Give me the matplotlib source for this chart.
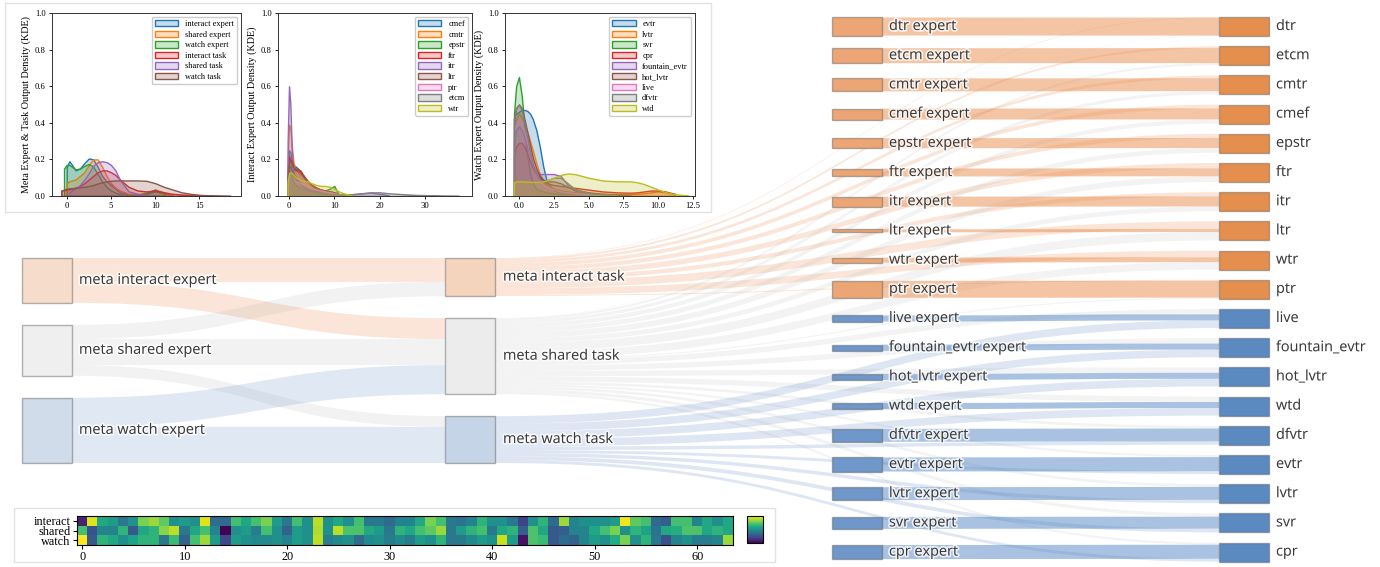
import numpy as np
import matplotlib
matplotlib.use("Agg")
import matplotlib.pyplot as plt
import matplotlib.patheffects as pe
from matplotlib.path import Path
from matplotlib.patches import PathPatch, Rectangle
from matplotlib.colors import to_rgba

plt.rcParams['font.family'] = ['Liberation Serif', 'DejaVu Serif']
N = None

# ---------------- KDE panels (density) ----------------
x_meta = [-0.6, -0.3, 0.0, 0.3, 0.6, 1.0, 1.5, 2.0, 2.5, 3.0, 3.5, 4.0, 4.5, 5.0, 5.5, 6.0,
          7.0, 8.0, 9.0, 10.0, 11.0, 12.0, 13.0, 14.0, 15.0, 16.5, 18.5]
meta_names = ['interact expert', 'shared expert', 'watch expert', 'interact task', 'shared task', 'watch task']
meta_dens = [
    [N, N, 0.16, 0.19, 0.17, 0.14, 0.15, 0.18, 0.205, 0.20, 0.16, 0.11, 0.08, 0.06, 0.04, 0.02, 0.008, 0.006, 0.012, 0.025, 0.015, 0.002, N, N, N, N, N],
    [N, N, 0.07, 0.08, 0.085, 0.09, 0.11, 0.13, 0.17, 0.20, 0.20, 0.16, 0.11, 0.07, 0.045, 0.03, 0.012, 0.008, 0.02, 0.035, 0.02, 0.003, N, N, N, N, N],
    [N, 0.15, 0.17, 0.17, 0.16, 0.145, 0.15, 0.165, 0.175, 0.16, 0.12, 0.08, 0.05, 0.03, 0.018, 0.01, 0.004, 0.004, 0.015, 0.035, 0.012, N, N, N, N, N, N],
    [0.03, 0.032, 0.035, 0.038, 0.04, 0.045, 0.055, 0.07, 0.09, 0.11, 0.13, 0.14, 0.14, 0.13, 0.115, 0.09, 0.05, 0.03, 0.025, 0.03, 0.02, 0.012, 0.008, 0.006, 0.005, 0.003, N],
    [N, N, N, 0.02, 0.03, 0.04, 0.06, 0.09, 0.125, 0.165, 0.185, 0.19, 0.185, 0.17, 0.14, 0.09, 0.025, 0.012, 0.006, 0.002, N, N, N, N, N, N, N],
    [0.03, 0.035, 0.04, 0.042, 0.043, 0.045, 0.048, 0.05, 0.055, 0.06, 0.068, 0.075, 0.08, 0.083, 0.085, 0.085, 0.085, 0.085, 0.083, 0.07, 0.05, 0.035, 0.02, 0.012, 0.006, 0.003, 0.001],
]

x_inter = [-0.3, 0.0, 0.3, 0.6, 1.0, 1.5, 2.0, 2.5, 3.0, 4.0, 5.0, 6.0, 7.0, 8.0, 9.0, 10.0,
           11.0, 12.0, 14.0, 16.0, 18.0, 20.0, 22.0, 25.0, 28.0, 31.0, 34.0, 37.5]
inter_names = ['cmef', 'cmtr', 'epstr', 'ftr', 'itr', 'ltr', 'ptr', 'etcm', 'wtr']
inter_dens = [
    [0.15, 0.25, 0.24, 0.20, 0.17, 0.16, 0.15, 0.13, 0.11, 0.08, 0.06, 0.045, 0.035, 0.03, 0.025, 0.018, 0.008, 0.002] + [N] * 10,
    [0.20, 0.39, 0.37, 0.28, 0.18, 0.14, 0.13, 0.12, 0.11, 0.08, 0.06, 0.045, 0.035, 0.03, 0.025, 0.02, 0.01, 0.005, 0.001] + [N] * 9,
    [0.10, 0.17, 0.16, 0.14, 0.12, 0.10, 0.08, 0.07, 0.06, 0.045, 0.035, 0.03, 0.028, 0.03, 0.04, 0.055, 0.005] + [N] * 11,
    [0.12, 0.22, 0.20, 0.17, 0.15, 0.14, 0.145, 0.14, 0.12, 0.085, 0.06, 0.045, 0.035, 0.03, 0.025, 0.02, 0.01, 0.005] + [N] * 10,
    [0.30, 0.60, 0.50, 0.25, 0.12, 0.09, 0.08, 0.07, 0.05, 0.04, 0.03, 0.025, 0.02, 0.015, 0.012, 0.01, 0.008, 0.008, 0.01, 0.014, 0.018, 0.012, 0.004] + [N] * 5,
    [0.08, 0.18, 0.20, 0.19, 0.16, 0.15, 0.14, 0.13, 0.115, 0.085, 0.06, 0.045, 0.035, 0.03, 0.025, 0.02, 0.01, 0.004] + [N] * 10,
    [0.06, 0.10, 0.11, 0.10, 0.09, 0.08, 0.075, 0.07, 0.065, 0.05, 0.04, 0.035, 0.03, 0.025, 0.02, 0.015, 0.01, 0.005, 0.002] + [N] * 9,
    [0.07, 0.13, 0.12, 0.10, 0.08, 0.06, 0.05, 0.045, 0.04, 0.03, 0.025, 0.02, 0.016, 0.012, 0.01, 0.009, 0.008, 0.008, 0.01, 0.015, 0.02, 0.02, 0.015, 0.01, 0.006, 0.004, 0.002, 0.001],
    [0.08, 0.12, 0.13, 0.125, 0.115, 0.10, 0.095, 0.09, 0.085, 0.08, 0.07, 0.06, 0.055, 0.055, 0.05, 0.04, 0.025, 0.015, 0.002] + [N] * 9,
]

x_watch = [-0.35, -0.2, 0.0, 0.2, 0.4, 0.6, 0.8, 1.0, 1.25, 1.5, 1.75, 2.0, 2.5, 3.0, 3.5, 4.0,
           5.0, 6.0, 7.0, 8.0, 8.5, 9.0, 9.5, 10.0, 10.5, 11.2, 12.2]
watch_names = ['evtr', 'lvtr', 'svr', 'cpr', 'fountain_evtr', 'hot_lvtr', 'live', 'dfvtr', 'wtd']
watch_dens = [
    [0.43, 0.45, 0.46, 0.47, 0.47, 0.465, 0.45, 0.42, 0.36, 0.27, 0.16, 0.08, 0.03, 0.02, 0.015, 0.01, 0.008, 0.005, 0.003, 0.002] + [N] * 7,
    [0.38, 0.42, 0.45, 0.43, 0.40, 0.35, 0.30, 0.25, 0.18, 0.12, 0.08, 0.06, 0.04, 0.03, 0.025, 0.02, 0.015, 0.012, 0.01, 0.01, 0.012, 0.015, 0.02, 0.025, 0.02, 0.01, N],
    [0.45, 0.60, 0.65, 0.55, 0.38, 0.22, 0.12, 0.07, 0.04, 0.03, 0.025, 0.02, 0.015, 0.01, 0.008, 0.005, 0.002] + [N] * 10,
    [0.22, 0.27, 0.29, 0.29, 0.27, 0.23, 0.19, 0.15, 0.12, 0.10, 0.08, 0.07, 0.06, 0.055, 0.05, 0.045, 0.035, 0.025, 0.02, 0.018, 0.02, 0.025, 0.03, 0.03, 0.025, 0.012, N],
    [0.30, 0.36, 0.38, 0.36, 0.32, 0.27, 0.22, 0.17, 0.13, 0.12, 0.12, 0.12, 0.12, 0.11, 0.06, 0.03, 0.01, 0.005] + [N] * 9,
    [0.42, 0.48, 0.50, 0.48, 0.42, 0.35, 0.28, 0.21, 0.15, 0.11, 0.09, 0.08, 0.08, 0.07, 0.05, 0.035, 0.02, 0.012, 0.008, 0.005] + [N] * 7,
    [0.35, 0.40, 0.42, 0.40, 0.35, 0.29, 0.23, 0.17, 0.12, 0.08, 0.06, 0.05, 0.035, 0.025, 0.02, 0.015, 0.01, 0.005] + [N] * 9,
    [0.42, 0.48, 0.50, 0.47, 0.40, 0.32, 0.24, 0.17, 0.12, 0.09, 0.08, 0.085, 0.10, 0.10, 0.07, 0.04, 0.015, 0.008, 0.005] + [N] * 8,
    [0.075, 0.08, 0.08, 0.08, 0.079, 0.078, 0.078, 0.077, 0.077, 0.077, 0.08, 0.085, 0.10, 0.115, 0.123, 0.12, 0.10, 0.085, 0.08, 0.08, 0.075, 0.065, 0.05, 0.035, 0.022, 0.01, 0.002],
]

# ---------------- heatmap of gate weights ----------------
heat_rows = ['interact', 'shared', 'watch']
heat_interact = [0.10, 0.95, 0.60, 0.55, 0.40, 0.50, 0.80, 0.85, 0.75, 0.50, 0.55, 0.50, 0.95, 0.35, 0.35, 0.70,
                 0.60, 0.70, 0.80, 0.55, 0.40, 0.70, 0.50, 0.90, 0.50, 0.60, 0.50, 0.70, 0.40, 0.40, 0.35, 0.45,
                 0.45, 0.60, 0.80, 0.70, 0.40, 0.38, 0.45, 0.65, 0.50, 0.50, 0.40, 0.20, 0.50, 0.65, 0.35, 0.85,
                 0.45, 0.50, 0.50, 0.50, 0.55, 0.98, 0.75, 0.70, 0.35, 0.30, 0.70, 0.70, 0.45, 0.60, 0.50, 0.60]
heat_shared = [0.70, 0.25, 0.45, 0.45, 0.65, 0.28, 0.60, 0.65, 0.82, 0.90, 0.40, 0.60, 0.70, 0.45, 0.00, 0.50,
               0.55, 0.42, 0.70, 0.50, 0.32, 0.55, 0.50, 0.88, 0.50, 0.90, 0.72, 0.72, 0.60, 0.55, 0.40, 0.65,
               0.60, 0.70, 0.75, 0.85, 0.40, 0.55, 0.65, 0.70, 0.40, 0.60, 0.65, 0.30, 0.72, 0.60, 0.28, 0.30,
               0.45, 0.45, 0.60, 0.70, 0.80, 0.50, 0.65, 0.58, 0.38, 0.60, 0.62, 0.72, 0.72, 0.60, 0.65, 0.60]
heat_watch = [1.00, 0.28, 0.65, 0.60, 0.50, 0.58, 0.65, 0.65, 0.40, 0.68, 0.32, 0.70, 0.85, 0.55, 0.22, 0.55,
              0.50, 0.48, 0.48, 0.50, 0.45, 0.55, 0.50, 0.90, 0.42, 0.48, 0.50, 0.35, 0.48, 0.50, 0.42, 0.48,
              0.42, 0.55, 0.50, 0.65, 0.40, 0.40, 0.48, 0.55, 0.50, 0.92, 0.55, 0.05, 0.72, 0.68, 0.28, 0.35,
              0.32, 0.45, 0.55, 0.50, 0.62, 0.80, 0.50, 0.65, 0.40, 0.25, 0.45, 0.50, 0.42, 0.42, 0.45, 0.85]

# ---------------- sankey flows ----------------
meta_experts = ['meta interact expert', 'meta shared expert', 'meta watch expert']
meta_tasks = ['meta interact task', 'meta shared task', 'meta watch task']
meta_flow = [[1.26, 1.10, 0.00],
             [0.75, 1.37, 0.56],
             [0.00, 1.53, 1.90]]
tasks = ['dtr', 'etcm', 'cmtr', 'cmef', 'epstr', 'ftr', 'itr', 'ltr', 'wtr', 'ptr',
         'live', 'fountain_evtr', 'hot_lvtr', 'wtd', 'dfvtr', 'evtr', 'lvtr', 'svr', 'cpr']
task_group = ['interact'] * 10 + ['watch'] * 9
w_expert = [0.95, 0.79, 0.68, 0.58, 0.53, 0.42, 0.53, 0.16, 0.26, 0.89,
            0.32, 0.32, 0.32, 0.32, 0.68, 0.74, 0.68, 0.63, 0.74]
w_interact = [0.03, 0.10, 0.15, 0.20, 0.22, 0.28, 0.22, 0.40, 0.35, 0.05,
              0, 0, 0, 0, 0, 0, 0, 0, 0]
w_shared = [0.02, 0.11, 0.17, 0.22, 0.25, 0.30, 0.25, 0.44, 0.39, 0.06,
            0.28, 0.28, 0.28, 0.28, 0.14, 0.11, 0.14, 0.17, 0.11]
w_watch = [0, 0, 0, 0, 0, 0, 0, 0, 0, 0,
           0.40, 0.40, 0.40, 0.40, 0.18, 0.15, 0.18, 0.20, 0.15]

W, H = 1380, 567
fig = plt.figure(figsize=(W / 100, H / 100), dpi=100)


def px(x0, y0, x1, y1):
    return [x0 / W, 1 - y1 / H, (x1 - x0) / W, (y1 - y0) / H]


# sankey canvas in pixel units
sk = fig.add_axes([0, 0, 1, 1])
sk.set_xlim(0, W)
sk.set_ylim(H, 0)
sk.axis('off')

SCALE = 19.0
COL_X = [22, 445, 832, 1219]
NW = 50
halo = [pe.withStroke(linewidth=2.5, foreground='white', alpha=0.75)]


def band(xa, ya0, ya1, xb, yb0, yb1, color, z=1):
    xm = (xa + xb) / 2
    verts = [(xa, ya0), (xm, ya0), (xm, yb0), (xb, yb0), (xb, yb1), (xm, yb1), (xm, ya1), (xa, ya1), (xa, ya0)]
    codes = [Path.MOVETO, Path.CURVE4, Path.CURVE4, Path.CURVE4, Path.LINETO,
             Path.CURVE4, Path.CURVE4, Path.CURVE4, Path.CLOSEPOLY]
    sk.add_patch(PathPatch(Path(verts, codes), facecolor=color, edgecolor='none', lw=0, zorder=z))


def node(x, y, h, color, label, gap=7):
    sk.add_patch(Rectangle((x, y), NW, h, facecolor=color, edgecolor=(0.35, 0.35, 0.35, 0.45), lw=1, zorder=4))
    sk.text(x + NW + gap, y + h / 2, label, va='center', ha='left', fontsize=10.4, color='#383838',
            family=['Open Sans', 'DejaVu Sans'], path_effects=halo, zorder=6)


meta_flow = np.array(meta_flow)
left_val = meta_flow.sum(axis=1)
out_mid = [sum(w_interact), sum(w_shared), sum(w_watch)]
mid_val = np.maximum(meta_flow.sum(axis=0), out_mid)


def stack(vals, top, pad):
    tops = []
    y = top
    for v in vals:
        tops.append(y)
        y += v * SCALE + pad
    return tops


left_top = stack(left_val, 258, 22)
mid_top = stack(mid_val, 258, 22)
task_val = np.array(w_expert) + np.array(w_interact) + np.array(w_shared) + np.array(w_watch)
row_pitch = SCALE + 10.2
task_top = [17 + i * row_pitch for i in range(len(tasks))]
task_mid = [t + v * SCALE / 2 for t, v in zip(task_top, task_val)]

c_meta_node_e = ['#f6dccb', '#efefef', '#d0dcea']
c_meta_node_t = ['#f5d4be', '#ececec', '#c5d5e7']
c_meta_link = [(0.94, 0.60, 0.40, 0.25), (0.70, 0.70, 0.70, 0.17), (0.45, 0.60, 0.80, 0.22)]
c_fan = [(0.94, 0.62, 0.42, 0.26), (0.70, 0.70, 0.70, 0.15), (0.45, 0.60, 0.80, 0.24)]
c_exp_node = {'interact': '#eca676', 'watch': '#6f97c9'}
c_task_node = {'interact': '#e58f4e', 'watch': '#5b8ac0'}
c_exp_link = {'interact': (0.91, 0.55, 0.30, 0.5), 'watch': (0.33, 0.53, 0.77, 0.5)}

# meta expert -> meta task
o_off = list(left_top)
i_off = list(mid_top)
for s in range(3):
    for t in range(3):
        v = meta_flow[s, t]
        if v <= 0:
            continue
        h = v * SCALE
        band(COL_X[0] + NW, o_off[s], o_off[s] + h, COL_X[1], i_off[t], i_off[t] + h, c_meta_link[s], z=2)
        o_off[s] += h
        i_off[t] += h

# incoming segments at each task node
flows = {'interact': w_interact, 'shared': w_shared, 'watch': w_watch, 'expert': w_expert}
seg = []
for i in range(len(tasks)):
    order = ['interact', 'expert', 'shared'] if task_group[i] == 'interact' else ['shared', 'expert', 'watch']
    y = task_top[i]
    d = {}
    for k in order:
        h = flows[k][i] * SCALE
        d[k] = (y, y + h)
        y += h
    seg.append(d)

# meta task -> task fans
m_off = list(mid_top)
for m, key in enumerate(['interact', 'shared', 'watch']):
    for i in range(len(tasks)):
        v = flows[key][i]
        if v <= 0:
            continue
        h = v * SCALE
        y0, y1 = seg[i][key]
        band(COL_X[1] + NW, m_off[m], m_off[m] + h, COL_X[3], y0, y1, c_fan[m], z=1)
        m_off[m] += h

# expert -> task
for i, t in enumerate(tasks):
    h = w_expert[i] * SCALE
    ey = task_mid[i] - h / 2
    y0, y1 = seg[i]['expert']
    band(COL_X[2] + NW, ey, ey + h, COL_X[3], y0, y1, c_exp_link[task_group[i]], z=3)
    node(COL_X[2], ey, h, c_exp_node[task_group[i]], t + ' expert')
    node(COL_X[3], task_top[i], task_val[i] * SCALE, c_task_node[task_group[i]], t)

for k in range(3):
    node(COL_X[0], left_top[k], left_val[k] * SCALE, c_meta_node_e[k], meta_experts[k])
    node(COL_X[1], mid_top[k], mid_val[k] * SCALE, c_meta_node_t[k], meta_tasks[k], gap=8)

# white panels behind the inset plots
sk.add_patch(Rectangle((5, 3), 706, 209, facecolor='white', edgecolor='#e2e2e2', lw=1, zorder=10))
sk.add_patch(Rectangle((14, 508), 761, 54, facecolor='white', edgecolor='#e2e2e2', lw=1, zorder=10))


def kde_panel(rect, xs, dens, names, xlim, xticks, ylabel):
    ax = fig.add_axes(px(*rect))
    xs = np.array(xs)
    for k, (name, ys) in enumerate(zip(names, dens)):
        y = np.array(ys, dtype=float)
        m = ~np.isnan(y)
        c = 'C%d' % k
        ax.fill_between(xs[m], y[m], facecolor=to_rgba(c, 0.25), edgecolor=c, lw=1.0, label=name)
    ax.set_xlim(*xlim)
    ax.set_ylim(0, 1.0)
    ax.set_xticks(xticks)
    ax.set_yticks([0, 0.2, 0.4, 0.6, 0.8, 1.0])
    ax.tick_params(labelsize=6.2, length=2.5, width=0.6, pad=2)
    ax.set_ylabel(ylabel, fontsize=7.3, labelpad=3)
    for sp in ax.spines.values():
        sp.set_linewidth(0.7)
        sp.set_color('#333333')
    ax.legend(loc='upper right', fontsize=6.0, handlelength=2.8, handleheight=0.8,
              labelspacing=0.3, borderaxespad=0.45, edgecolor='#cccccc', framealpha=1)
    return ax


kde_panel((52, 13, 241, 196), x_meta, meta_dens, meta_names, (-1.66, 19.7), [0, 5, 10, 15],
          'Meta Expert & Task Output Density (KDE)')
kde_panel((278, 13, 472, 196), x_inter, inter_dens, inter_names, (-2.43, 40.4), [0, 10, 20, 30],
          'Interact Expert Output Density (KDE)')
kde_panel((505, 13, 695, 196), x_watch, watch_dens, watch_names, (-1.0, 12.65), [0, 2.5, 5, 7.5, 10, 12.5],
          'Watch Expert Output Density (KDE)')

# heatmap
hx = fig.add_axes(px(77, 516, 733, 545))
im = hx.imshow(np.array([heat_interact, heat_shared, heat_watch]), cmap='viridis', aspect='auto',
               vmin=0, vmax=1, interpolation='nearest')
hx.set_yticks(range(3))
hx.set_yticklabels(heat_rows)
hx.set_xticks(range(0, 64, 10))
hx.tick_params(labelsize=8.8, length=3, width=0.8, pad=1.5)
cax = fig.add_axes(px(747, 516, 763, 543))
cb = fig.colorbar(im, cax=cax)
cb.set_ticks([])
cb.outline.set_linewidth(0.8)

fig.savefig('out.png', dpi=100)
